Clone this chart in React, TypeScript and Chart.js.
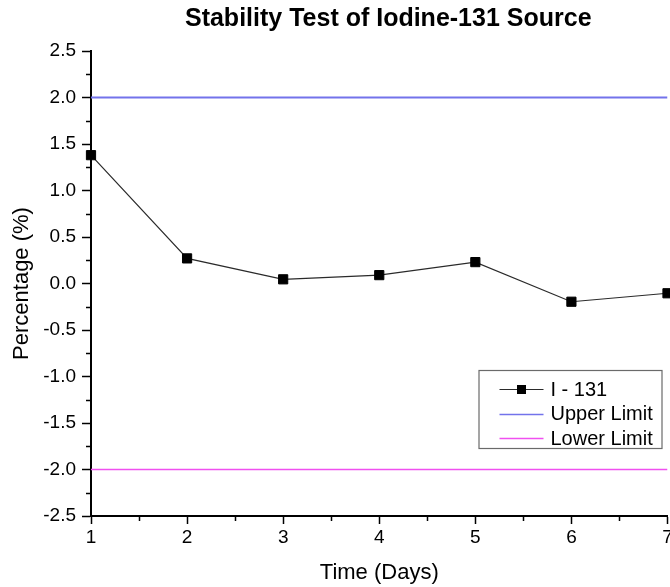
import React, { useEffect, useRef } from "react";
import { Chart, registerables } from "chart.js";

Chart.register(...registerables);

const days = [1, 2, 3, 4, 5, 6, 7];
const i131Values = [1.38, 0.27, 0.045, 0.09, 0.23, -0.196, -0.105];
const upperLimit = [2.0, 2.0];
const lowerLimit = [-2.0, -2.0];
const limitDays = [1, 7];
const yMinorTicks = [-2.25, -1.75, -1.25, -0.75, -0.25, 0.25, 0.75, 1.25, 1.75, 2.25];
const xMinorTicks = [1.5, 2.5, 3.5, 4.5, 5.5, 6.5];
const seriesLabels = ["I - 131", "Upper Limit", "Lower Limit"];
const chartTitle = "Stability Test of Iodine-131 Source";

const FONT = "'Liberation Sans', Arial, sans-serif";

const titlePlugin = {
  id: "plotTitle",
  afterDraw(chart: any) {
    const { ctx, chartArea } = chart;
    ctx.save();
    ctx.font = `bold 25px ${FONT}`;
    ctx.fillStyle = "#000";
    ctx.textAlign = "center";
    ctx.textBaseline = "middle";
    ctx.fillText(chartTitle, (chartArea.left + chartArea.right) / 2 + 9, 19);
    ctx.restore();
  },
};

const minorTicksPlugin = {
  id: "minorTicks",
  afterDraw(chart: any) {
    const { ctx, chartArea } = chart;
    const xs = chart.scales.x;
    const ys = chart.scales.y;
    ctx.save();
    ctx.strokeStyle = "#000";
    ctx.lineWidth = 1.5;
    ctx.beginPath();
    yMinorTicks.forEach((v) => {
      const p = Math.round(ys.getPixelForValue(v)) + 0.5;
      ctx.moveTo(chartArea.left - 5, p);
      ctx.lineTo(chartArea.left, p);
    });
    xMinorTicks.forEach((v) => {
      const p = Math.round(xs.getPixelForValue(v)) + 0.5;
      ctx.moveTo(p, chartArea.bottom);
      ctx.lineTo(p, chartArea.bottom + 5);
    });
    ctx.stroke();
    ctx.restore();
  },
};

const boxLegendPlugin = {
  id: "boxLegend",
  afterDraw(chart: any) {
    const { ctx, chartArea } = chart;
    const w = 183;
    const h = 78;
    const x0 = chartArea.right - 189;
    const y0 = chartArea.top + 319;
    ctx.save();
    ctx.fillStyle = "#fff";
    ctx.fillRect(x0, y0, w, h);
    ctx.strokeStyle = "#6a6a6a";
    ctx.lineWidth = 1.2;
    ctx.strokeRect(x0 + 0.5, y0 + 0.5, w, h);
    ctx.font = `20px ${FONT}`;
    ctx.textBaseline = "middle";
    ctx.textAlign = "left";
    chart.data.datasets.forEach((ds: any, i: number) => {
      const cy = y0 + 19 + i * 24.5;
      const lx0 = x0 + 21;
      const lx1 = x0 + 65;
      ctx.strokeStyle = ds.borderColor;
      ctx.lineWidth = i === 0 ? 1.2 : 1.5;
      ctx.beginPath();
      ctx.moveTo(lx0, Math.round(cy) + 0.5);
      ctx.lineTo(lx1, Math.round(cy) + 0.5);
      ctx.stroke();
      if (i === 0) {
        ctx.fillStyle = "#000";
        ctx.fillRect((lx0 + lx1) / 2 - 4.5, cy - 4, 9, 9);
      }
      ctx.fillStyle = "#000";
      ctx.fillText(ds.label, x0 + 72, cy + 1);
    });
    ctx.restore();
  },
};

export default function App() {
  const canvasRef = useRef<HTMLCanvasElement | null>(null);

  useEffect(() => {
    document.body.style.margin = "0";
    document.body.style.overflow = "hidden";
    Chart.defaults.font.family = FONT;
    Chart.defaults.color = "#000";
    const canvas = canvasRef.current;
    if (!canvas) return;

    const chart = new Chart(canvas, {
      type: "line",
      data: {
        datasets: [
          {
            label: seriesLabels[0],
            data: days.map((d, i) => ({ x: d, y: i131Values[i] })),
            borderColor: "#2a2a2a",
            borderWidth: 1.2,
            pointStyle: "rect",
            pointRadius: 6.5,
            pointBackgroundColor: "#000",
            pointBorderColor: "#000",
            pointBorderWidth: 1,
            clip: false as any,
          },
          {
            label: seriesLabels[1],
            data: limitDays.map((d, i) => ({ x: d, y: upperLimit[i] })),
            borderColor: "rgb(115,115,235)",
            borderWidth: 2,
            pointRadius: 0,
          },
          {
            label: seriesLabels[2],
            data: limitDays.map((d, i) => ({ x: d, y: lowerLimit[i] })),
            borderColor: "rgb(240,80,240)",
            borderWidth: 1.5,
            pointRadius: 0,
          },
        ],
      },
      options: {
        animation: false,
        responsive: false,
        devicePixelRatio: 1,
        layout: { padding: { left: 0, right: 0, top: 51, bottom: 0 } },
        plugins: {
          legend: { display: false },
          tooltip: { enabled: false },
          title: { display: false },
        },
        scales: {
          x: {
            type: "linear",
            min: 1,
            max: 7,
            ticks: {
              stepSize: 1,
              color: "#000",
              font: { size: 19 },
              padding: 2,
            },
            grid: {
              drawOnChartArea: false,
              tickLength: 8,
              tickColor: "#000",
              tickWidth: 1.5,
            },
            border: { color: "#000", width: 2 },
            title: {
              display: true,
              text: "Time (Days)",
              color: "#000",
              font: { size: 22 },
              padding: { top: 0, bottom: 1 },
            },
            afterFit: (s: any) => {
              s.height = 71;
            },
          },
          y: {
            type: "linear",
            min: -2.5,
            max: 2.5,
            ticks: {
              stepSize: 0.5,
              color: "#000",
              font: { size: 19 },
              padding: 6,
              callback: (v: any) => Number(v).toFixed(1),
            },
            grid: {
              drawOnChartArea: false,
              tickLength: 9,
              tickColor: "#000",
              tickWidth: 1.5,
            },
            border: { color: "#000", width: 2 },
            title: {
              display: true,
              text: "Percentage (%)",
              color: "#000",
              font: { size: 22 },
              padding: { top: 9, bottom: 0 },
            },
            afterFit: (s: any) => {
              s.width = 91;
              s.paddingTop = 0;
              s.paddingBottom = 0;
            },
          },
        },
      },
      plugins: [titlePlugin, minorTicksPlugin, boxLegendPlugin],
    });

    return () => chart.destroy();
  }, []);

  return (
    <div style={{ width: 670, height: 587, overflow: "hidden" }}>
      <canvas ref={canvasRef} width={675} height={587} style={{ display: "block" }} />
    </div>
  );
}
